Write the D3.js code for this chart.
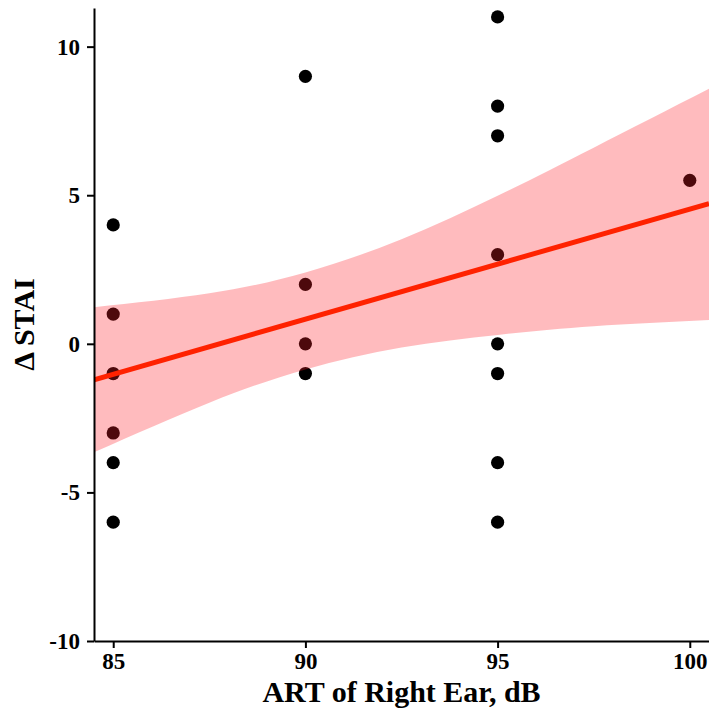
<!DOCTYPE html>
<html>
<head>
<meta charset="utf-8">
<script src="https://cdn.jsdelivr.net/npm/d3@7/dist/d3.min.js"></script>
<style>
  html, body { margin: 0; padding: 0; background: #fff; }
  svg { display: block; }
  .tick text { font-family: "Liberation Serif", "DejaVu Serif", serif; font-weight: bold; }
</style>
</head>
<body>
<svg id="chart" width="709" height="712"></svg>
<script>
// Observations: ART of the right ear (dB) against change in STAI
const artDb = [85, 85, 85, 85, 85, 85, 90, 90, 90, 90, 95, 95, 95, 95, 95, 95, 95, 95, 100];
const deltaStai = [4, 1, -1, -3, -4, -6, 9, 2, 0, -1, 11, 8, 7, 3, 0, -1, -4, -6, 5.5];

// Linear fit with its 95% confidence band
const bandX = [84.5, 87.5, 90, 92.5, 95, 97.5, 100.5];
const bandLow = [-3.65, -1.98, -0.86, -0.12, 0.30, 0.59, 0.80];
const bandHigh = [1.23, 1.70, 2.40, 3.52, 4.98, 6.60, 8.58];
const fitX = [84.5, 100.5];
const fitY = [-1.21, 4.72];

// Axis ticks
const xTicks = [85, 90, 95, 100];
const yTicks = [-10, -5, 0, 5, 10];

const svg = d3.select("#chart");
const W = 709, H = 712;
const margin = { top: 8, right: 0, bottom: 71, left: 94 };

const x = d3.scaleLinear().domain([84.5, 100.5]).range([margin.left, W - margin.right]);
const y = d3.scaleLinear().domain([-10, 11.3]).range([H - margin.bottom, margin.top]);

svg.append("defs").append("clipPath").attr("id", "plot-clip")
  .append("rect")
  .attr("x", margin.left).attr("y", margin.top)
  .attr("width", W - margin.left - margin.right)
  .attr("height", H - margin.top - margin.bottom);

const plot = svg.append("g").attr("clip-path", "url(#plot-clip)");

// points
plot.append("g").selectAll("circle")
  .data(artDb.map((v, i) => [v, deltaStai[i]]))
  .join("circle")
  .attr("cx", d => x(d[0]))
  .attr("cy", d => y(d[1]))
  .attr("r", 6.6)
  .attr("fill", "#000");

// confidence band
const band = bandX.map((v, i) => ({ x: v, lo: bandLow[i], hi: bandHigh[i] }));
plot.append("path")
  .datum(band)
  .attr("fill", "rgb(255,30,40)")
  .attr("fill-opacity", 0.3)
  .attr("d", d3.area()
    .curve(d3.curveNatural)
    .x(d => x(d.x))
    .y0(d => y(d.lo))
    .y1(d => y(d.hi)));

// regression line
plot.append("path")
  .datum(fitX.map((v, i) => [v, fitY[i]]))
  .attr("fill", "none")
  .attr("stroke", "#ff2200")
  .attr("stroke-width", 5)
  .attr("d", d3.line().x(d => x(d[0])).y(d => y(d[1])));

// axes
const fmt = d => String(d); // plain hyphen-minus for negatives
const xAxis = svg.append("g")
  .attr("transform", `translate(0,${H - margin.bottom})`)
  .call(d3.axisBottom(x).tickValues(xTicks).tickFormat(fmt).tickSize(7).tickPadding(5).tickSizeOuter(0));
const yAxis = svg.append("g")
  .attr("transform", `translate(${margin.left},0)`)
  .call(d3.axisLeft(y).tickValues(yTicks).tickFormat(fmt).tickSize(7).tickPadding(7).tickSizeOuter(0));

[xAxis, yAxis].forEach(a => {
  a.select(".domain").attr("stroke", "#000").attr("stroke-width", 2);
  a.selectAll(".tick line").attr("stroke", "#000").attr("stroke-width", 2);
  a.selectAll(".tick text").attr("fill", "#000").attr("font-size", 23);
});

// axis titles
svg.append("text")
  .attr("x", (margin.left + W - margin.right) / 2)
  .attr("y", 702)
  .attr("text-anchor", "middle")
  .attr("font-family", "Liberation Serif, DejaVu Serif, serif")
  .attr("font-weight", "bold")
  .attr("font-size", 30)
  .text("ART of Right Ear, dB");

svg.append("text")
  .attr("transform", `translate(34,${(margin.top + H - margin.bottom) / 2}) rotate(-90)`)
  .attr("text-anchor", "middle")
  .attr("font-family", "Liberation Serif, DejaVu Serif, serif")
  .attr("font-weight", "bold")
  .attr("font-size", 30)
  .text("Δ STAI");
</script>
</body>
</html>
